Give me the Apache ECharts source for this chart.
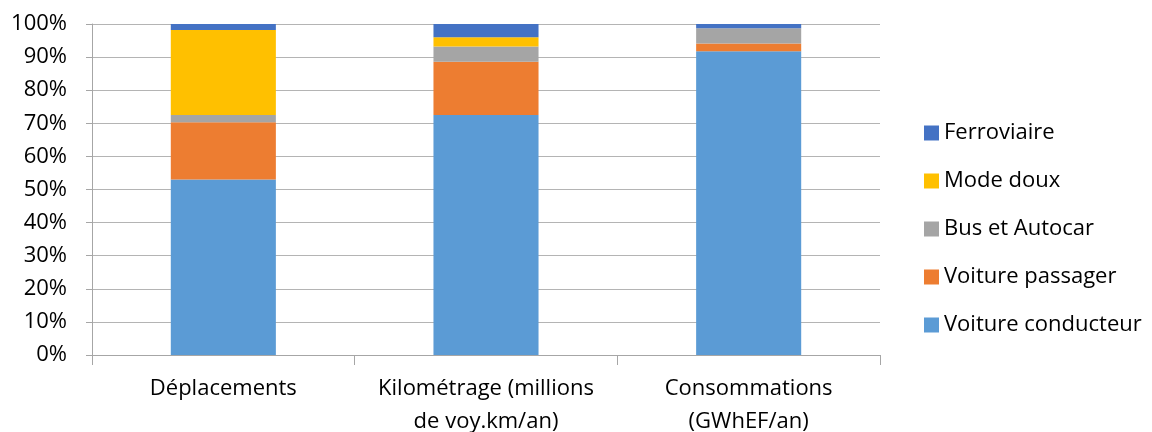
<!DOCTYPE html>
<html lang="fr">
<head>
    <meta charset="UTF-8">
    <title></title>
    <script src="https://cdn.jsdelivr.net/npm/echarts@6/dist/echarts.min.js"></script>
    <style>
        body { margin: 0; padding: 0; background: #fff; }
    </style>
</head>
<body>
    <div id="main" style="width:1152px;height:432px;"></div>
    <script type="text/javascript">
        // catégories et parts (%)
        var categories = ['Déplacements', 'Kilométrage (millions\nde voy.km/an)', 'Consommations\n(GWhEF/an)'];
        var voitureConducteur = [53.0, 72.5, 91.8];
        var voiturePassager = [17.3, 16.1, 2.3];
        var busAutocar = [2.2, 4.6, 4.6];
        var modeDoux = [25.7, 2.8, 0];
        var ferroviaire = [1.8, 4.0, 1.3];

        var font = '"Open Sans", "Noto Sans", sans-serif';
        var myChart = echarts.init(document.getElementById('main'));

        function serie(name, data, color) {
            return {
                name: name,
                type: 'bar',
                stack: 'total',
                barWidth: '40%',
                itemStyle: { color: color },
                data: data
            };
        }

        var option = {
            backgroundColor: '#fff',
            animation: false,
            textStyle: { fontFamily: font },
            grid: { left: 92, right: 272, top: 24, bottom: 77, outerBoundsMode: 'none', containLabel: false },
            legend: {
                orient: 'vertical',
                left: 919,
                top: 117,
                itemGap: 26,
                itemWidth: 15,
                itemHeight: 15,
                icon: 'rect',
                data: ['Ferroviaire', 'Mode doux', 'Bus et Autocar', 'Voiture passager', 'Voiture conducteur'],
                textStyle: { fontSize: 22, color: '#000', fontFamily: font }
            },
            xAxis: {
                type: 'category',
                data: categories,
                axisLine: { lineStyle: { color: '#a6a6a6' } },
                axisTick: { show: true, length: 10, lineStyle: { color: '#a6a6a6' } },
                axisLabel: { interval: 0, hideOverlap: false, fontSize: 22, color: '#000', margin: 17, lineHeight: 33, fontFamily: font }
            },
            yAxis: {
                type: 'value',
                min: 0,
                max: 100,
                interval: 10,
                axisLine: { show: true, lineStyle: { color: '#a6a6a6' } },
                axisTick: { show: true, inside: false, length: 6, lineStyle: { color: '#a6a6a6' } },
                splitLine: { lineStyle: { color: '#b4b4b4' } },
                axisLabel: { formatter: '{value}%', fontSize: 22, color: '#000', margin: 25, fontFamily: font }
            },
            series: [
                serie('Voiture conducteur', voitureConducteur, '#5B9BD5'),
                serie('Voiture passager', voiturePassager, '#ED7D31'),
                serie('Bus et Autocar', busAutocar, '#A5A5A5'),
                serie('Mode doux', modeDoux, '#FFC000'),
                serie('Ferroviaire', ferroviaire, '#4472C4')
            ]
        };
        myChart.setOption(option);
    </script>
</body>
</html>
